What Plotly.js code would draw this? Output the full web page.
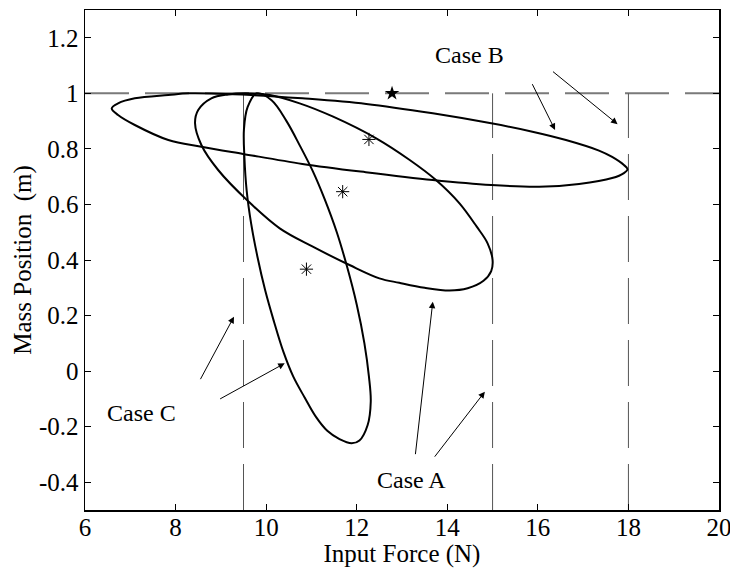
<!DOCTYPE html>
<html>
<head>
<meta charset="utf-8">
<script src="https://cdn.plot.ly/plotly-3.0.1.min.js"></script>
<style>html,body{margin:0;padding:0;background:#fff;}</style>
</head>
<body>
<div id="chart" style="width:730px;height:568px;"></div>
<script>
// ---- data ----
const caseAX = [9.55, 10.08, 10.74, 11.48, 12.43, 13.17, 13.75, 14.27, 14.65, 14.89, 15.00, 14.97, 14.80, 14.45, 14.05, 13.50, 12.94, 12.50, 11.84, 11.03, 10.30, 9.60, 8.94, 8.57, 8.43, 8.50, 8.79, 9.16, 9.55];
const caseAY = [1.000, 0.994, 0.964, 0.916, 0.838, 0.760, 0.688, 0.604, 0.520, 0.460, 0.400, 0.360, 0.325, 0.298, 0.290, 0.300, 0.318, 0.334, 0.382, 0.448, 0.514, 0.612, 0.724, 0.814, 0.892, 0.940, 0.982, 0.996, 1.000];

const caseBX = [8.30, 7.84, 7.10, 6.73, 6.59, 6.73, 7.10, 7.84, 8.57, 9.49, 10.80, 12.20, 13.68, 14.97, 16.03, 16.91, 17.64, 17.90, 17.98, 17.90, 17.64, 17.35, 16.62, 15.88, 14.97, 13.68, 12.21, 10.80, 9.67, 8.30];
const caseBY = [1.000, 0.994, 0.982, 0.964, 0.946, 0.922, 0.886, 0.832, 0.808, 0.782, 0.746, 0.716, 0.688, 0.670, 0.664, 0.674, 0.695, 0.713, 0.727, 0.742, 0.771, 0.794, 0.832, 0.862, 0.892, 0.928, 0.962, 0.982, 0.994, 1.000];

const caseCX = [9.79, 10.12, 10.45, 10.75, 11.03, 11.29, 11.56, 11.78, 12.00, 12.17, 12.27, 12.31, 12.24, 12.06, 11.89, 11.62, 11.35, 11.10, 10.85, 10.60, 10.38, 10.17, 9.98, 9.81, 9.67, 9.57, 9.52, 9.51, 9.59, 9.79];
const caseCY = [1.000, 0.975, 0.900, 0.810, 0.720, 0.620, 0.500, 0.380, 0.240, 0.100, -0.020, -0.110, -0.195, -0.250, -0.260, -0.245, -0.215, -0.165, -0.095, -0.020, 0.070, 0.180, 0.290, 0.410, 0.530, 0.650, 0.770, 0.870, 0.950, 1.000];

const centerX = [12.27, 11.69, 10.89];
const centerY = [0.834, 0.646, 0.367];
const targetX = [12.78];
const targetY = [1.0];

const refLevel = 1.0;                 // horizontal dashed line
const limitX = [9.5, 15, 18];         // vertical dashed limit lines

const xTickVals = [6, 8, 10, 12, 14, 16, 18, 20];
const xTickText = ['6', '8', '10', '12', '14', '16', '18', '20'];
const yTickVals = [-0.4, -0.2, 0, 0.2, 0.4, 0.6, 0.8, 1, 1.2];
const yTickText = ['-0.4', '-0.2', '0', '0.2', '0.4', '0.6', '0.8', '1', '1.2'];

const labelText = ['Case B', 'Case A', 'Case C'];
const labelX = [14.49, 13.22, 7.25];
const labelY = [1.138, -0.392, -0.15];

// arrows: head (x,y), tail (ax,ay)
const arrowHeadX = [16.38, 17.76, 13.68, 14.83, 9.29, 10.41];
const arrowHeadY = [0.868, 0.889, 0.250, -0.074, 0.196, 0.028];
const arrowTailX = [15.85, 16.29, 13.29, 13.68, 8.52, 8.94];
const arrowTailY = [1.042, 1.084, -0.308, -0.317, -0.038, -0.104];

const xRange = [6, 20];
const yRange = [-0.5, 1.3];

// ---- build ----
const FONT = 'Liberation Serif, Times New Roman, serif';
const traces = [];

traces.push({
  x: [xRange[0], xRange[1]], y: [refLevel, refLevel], mode: 'lines',
  line: {color: '#7a7a7a', width: 2, dash: '44px,16px'}, hoverinfo: 'skip'
});
limitX.forEach(function (lx) {
  traces.push({
    x: [lx, lx], y: [yRange[0], refLevel], mode: 'lines',
    line: {color: '#555555', width: 1, dash: '46px,16px'}, hoverinfo: 'skip'
  });
});
[[caseAX, caseAY], [caseBX, caseBY], [caseCX, caseCY]].forEach(function (c) {
  traces.push({
    x: c[0], y: c[1], mode: 'lines',
    line: {color: '#000', width: 2, shape: 'spline', smoothing: 1}, hoverinfo: 'skip'
  });
});
traces.push({
  x: centerX, y: centerY, mode: 'markers',
  marker: {symbol: 'asterisk-open', size: 11, color: '#000', line: {color: '#000', width: 1}}
});
traces.push({
  x: targetX, y: targetY, mode: 'markers',
  marker: {symbol: 'star', size: 11, color: '#000', line: {width: 0}}
});

const annotations = [];
labelText.forEach(function (t, i) {
  annotations.push({
    x: labelX[i], y: labelY[i], xref: 'x', yref: 'y', text: t, showarrow: false,
    font: {family: FONT, size: 24, color: '#000'}
  });
});
arrowHeadX.forEach(function (hx, i) {
  annotations.push({
    x: hx, y: arrowHeadY[i], xref: 'x', yref: 'y',
    ax: arrowTailX[i], ay: arrowTailY[i], axref: 'x', ayref: 'y',
    text: ' ', showarrow: true, arrowhead: 2, arrowsize: 1.3, arrowwidth: 1,
    arrowcolor: '#000', standoff: 0, startstandoff: 0, font: {size: 2}
  });
});

const axisCommon = {
  showgrid: false, zeroline: false, showline: true, linecolor: '#000', linewidth: 1.5,
  mirror: 'ticks', ticks: 'inside', ticklen: 6, tickwidth: 1, tickcolor: '#000',
  tickfont: {family: FONT, size: 25, color: '#000'}, fixedrange: true,
  ticklabeloverflow: 'allow'
};

const layout = {
  width: 730, height: 568,
  margin: {l: 85, r: 11, t: 10, b: 58},
  paper_bgcolor: '#fff', plot_bgcolor: '#fff',
  showlegend: false,
  font: {family: FONT, color: '#000'},
  xaxis: Object.assign({}, axisCommon, {
    range: xRange, tickmode: 'array', tickvals: xTickVals, ticktext: xTickText,
    ticklabelstandoff: -6,
    title: {text: 'Input Force (N)', font: {family: FONT, size: 25, color: '#000'}, standoff: 4}
  }),
  yaxis: Object.assign({}, axisCommon, {
    range: yRange, tickmode: 'array', tickvals: yTickVals, ticktext: yTickText,
    title: {text: 'Mass Position\u00a0 (m)', font: {family: FONT, size: 25, color: '#000'}, standoff: 0}
  }),
  annotations: annotations
};

Plotly.newPlot('chart', traces, layout, {staticPlot: true, displayModeBar: false});
</script>
</body>
</html>
